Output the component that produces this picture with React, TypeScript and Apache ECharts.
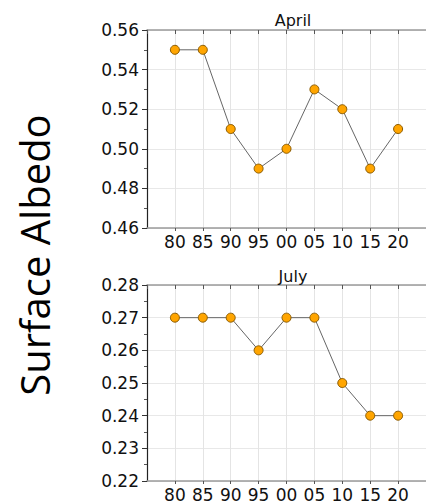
import React, { useEffect, useRef } from "react";
import * as echarts from "echarts";

const categories = ["80", "85", "90", "95", "00", "05", "10", "15", "20"];
const aprilValues = [0.55, 0.55, 0.51, 0.49, 0.5, 0.53, 0.52, 0.49, 0.51];
const julyValues = [0.27, 0.27, 0.27, 0.26, 0.27, 0.27, 0.25, 0.24, 0.24];
const panelTitles = ["April", "July"];
const yAxisTitle = "Surface Albedo";

const FONT = "DejaVu Sans";

export default function App() {
  const ref = useRef<HTMLDivElement>(null);
  useEffect(() => {
    if (!ref.current) return;
    const chart = echarts.init(ref.current, undefined, { renderer: "svg" });
    const grids = [
      { left: 147, top: 30, width: 280, height: 198 },
      { left: 147, top: 285, width: 280, height: 196 },
    ];
    const yCfg = [
      { min: 0.46, max: 0.56, interval: 0.02 },
      { min: 0.22, max: 0.28, interval: 0.01 },
    ];
    const xLabel = (v: number) => {
      const i = Math.round(v);
      return i >= 0 && i < categories.length && Math.abs(v - i) < 1e-6 ? categories[i] : "";
    };
    const xAxes: any[] = [];
    const yAxes: any[] = [];
    grids.forEach((_, gi) => {
      xAxes.push({
        type: "value",
        gridIndex: gi,
        position: "bottom",
        min: -1,
        max: 9,
        interval: 1,
        axisLine: { show: true, onZero: false, lineStyle: { color: "#9a9a9a", width: 1.5 } },
        axisTick: { show: true, length: 3, lineStyle: { color: "#555" } },
        axisLabel: { formatter: xLabel, color: "#111", fontFamily: FONT, fontSize: 17, margin: 5, showMinLabel: false, showMaxLabel: false },
        splitLine: { show: true, lineStyle: { color: "#e4e4e4", width: 1 } },
      });
      xAxes.push({
        type: "value",
        gridIndex: gi,
        position: "top",
        min: -1,
        max: 9,
        interval: 1,
        axisLine: { show: true, onZero: false, lineStyle: { color: "#9a9a9a", width: 1.5 } },
        axisTick: { show: true, inside: true, length: 4, lineStyle: { color: "#555" } },
        axisLabel: { show: false },
        splitLine: { show: false },
      });
      yAxes.push({
        type: "value",
        gridIndex: gi,
        min: yCfg[gi].min,
        max: yCfg[gi].max,
        interval: yCfg[gi].interval,
        axisLine: { show: true, onZero: false, lineStyle: { color: "#222", width: 1.2 } },
        axisTick: { show: true, length: 5, lineStyle: { color: "#333" } },
        minorTick: { show: true, splitNumber: 2, length: 3, lineStyle: { color: "#555" } },
        axisLabel: { formatter: (v: number) => v.toFixed(2), color: "#111", fontFamily: FONT, fontSize: 17, margin: 8 },
        splitLine: { show: true, lineStyle: { color: "#e8e8e8", width: 1 } },
      });
    });
    const mkSeries = (vals: number[], gi: number) => ({
      type: "line",
      xAxisIndex: gi * 2,
      yAxisIndex: gi,
      data: vals.map((v, i) => [i, v]),
      symbol: "circle",
      symbolSize: 9,
      lineStyle: { color: "#666", width: 1 },
      itemStyle: { color: "#FFA500", borderColor: "#8a5a00", borderWidth: 1 },
      z: 5,
    });
    chart.setOption({
      animation: false,
      backgroundColor: "#fff",
      grid: grids,
      xAxis: xAxes,
      yAxis: yAxes,
      title: [
        { text: panelTitles[0], left: 288, top: 7, textAlign: "center", textStyle: { fontFamily: FONT, fontSize: 16, fontWeight: "normal", color: "#111" } },
        { text: panelTitles[1], left: 288, top: 263, textAlign: "center", textStyle: { fontFamily: FONT, fontSize: 16, fontWeight: "normal", color: "#111" } },
      ],
      graphic: [
        {
          type: "text",
          x: 34,
          y: 255,
          rotation: Math.PI / 2,
          style: { text: yAxisTitle, fontFamily: "Open Sans", fontSize: 40, fill: "#000", align: "center", verticalAlign: "middle" },
        },
      ],
      series: [mkSeries(aprilValues, 0), mkSeries(julyValues, 1)],
    });
    return () => chart.dispose();
  }, []);
  return <div ref={ref} style={{ position: "fixed", left: 0, top: 0, width: 426, height: 503 }} />;
}
